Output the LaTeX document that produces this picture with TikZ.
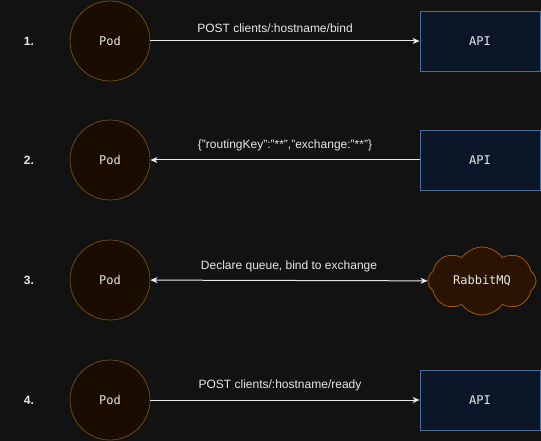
\documentclass[tikz,border=0pt]{standalone}
\usepackage{fontspec}
\setmainfont{Liberation Sans}
\setmonofont{DejaVu Sans Mono}
\usepackage{tikz}
\usetikzlibrary{arrows.meta}
\usetikzlibrary{shapes.symbols}

\definecolor{bgdark}{HTML}{121212}
\definecolor{podfill}{HTML}{1A0D00}
\definecolor{podline}{HTML}{6E4A0E}
\definecolor{apifill}{HTML}{0B1729}
\definecolor{apiline}{HTML}{4A6E9E}
\definecolor{mqfill}{HTML}{2A1300}
\definecolor{mqline}{HTML}{A05A08}
\definecolor{txt}{HTML}{E8E8E8}

\begin{document}
\begin{tikzpicture}[x=1pt,y=-1pt]
	\fill[bgdark] (0,0) rectangle (541,441);
	\useasboundingbox (0,0) rectangle (541,441);

	% step numbers
	\begin{scope}[every node/.style={text=txt,font=\bfseries\fontsize{12}{14}\selectfont}]
		\node (n1) at (29,41) {1.};
		\node (n2) at (29,160) {2.};
		\node (n3) at (29,280) {3.};
		\node (n4) at (29,400) {4.};
	\end{scope}

	\begin{scope}[every node/.style={circle,draw=podline,fill=podfill,line width=0.8pt,
	              minimum size=80pt,inner sep=0pt,text=txt,font=\ttfamily\fontsize{12}{14}\selectfont}]
		\node (p1) at (110,41) {Pod};
		\node (p2) at (110,160) {Pod};
		\node (p3) at (110,280) {Pod};
		\node (p4) at (110,400) {Pod};
	\end{scope}

	\begin{scope}[every node/.style={rectangle,draw=apiline,fill=apifill,line width=0.8pt,
	              minimum width=120pt,minimum height=60pt,text=txt,font=\ttfamily\fontsize{12}{14}\selectfont}]
		\node (a1) at (480,41) {API};
		\node (a2) at (480,160) {API};
		\node (a4) at (480,400) {API};
	\end{scope}

	\node[cloud,cloud puffs=8,cloud puff arc=110,aspect=1.6,draw=mqline,fill=mqfill,line width=0.8pt,
	      minimum width=108pt,minimum height=68pt,inner sep=0pt,text=txt,
	      font=\ttfamily\fontsize{12}{14}\selectfont] (r3) at (482,281) {RabbitMQ};

	\begin{scope}[>={Stealth[length=7pt,width=6pt,inset=2pt]},
	              every node/.style={text=txt,font=\fontsize{12}{14}\selectfont,above=5pt},
	              every edge/.style={draw=txt,line width=1pt}]
		\path (p1) edge[->] node[xshift=-10pt] {POST clients/:hostname/bind} (a1);
		\path (a2) edge[->] node {\{"routingKey":"**","exchange:"**"\}} (p2);
		\path (p3) edge[<->] node {Declare queue, bind to exchange} (r3);
		\path (p4) edge[->] node[xshift=-5pt] {POST clients/:hostname/ready} (a4);
	\end{scope}
\end{tikzpicture}
\end{document}
